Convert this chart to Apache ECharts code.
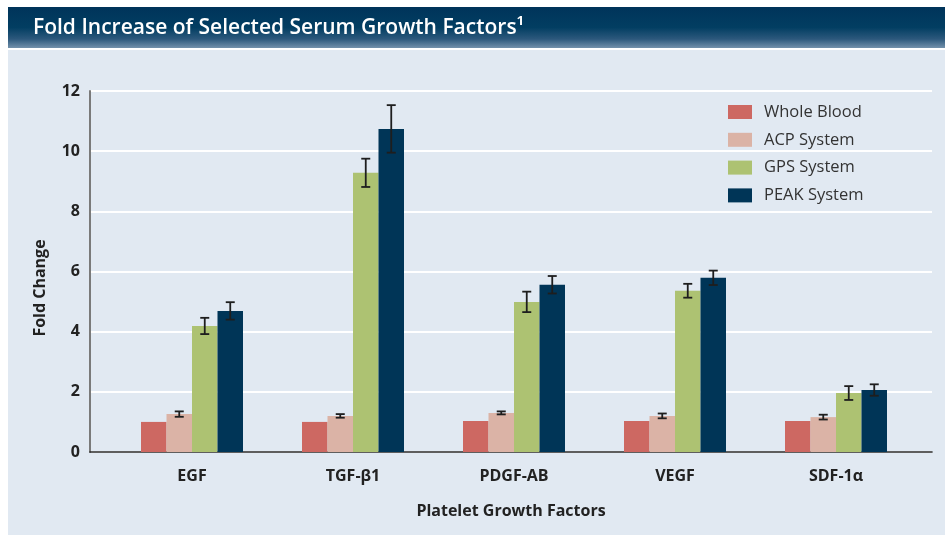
<!DOCTYPE html>
<html>
<head>
<meta charset="utf-8">
<script src="https://cdn.jsdelivr.net/npm/echarts@6/dist/echarts.min.js"></script>
<style>
html,body{margin:0;padding:0;background:#fff;}
#c{width:945px;height:535px;}
</style>
</head>
<body>
<div id="c"></div>
<script>
var categories = ['EGF', 'TGF-\u03b21', 'PDGF-AB', 'VEGF', 'SDF-1\u03b1'];
var seriesNames = ['Whole Blood', 'ACP System', 'GPS System', 'PEAK System'];
var wholeBlood = [1.0, 1.0, 1.03, 1.03, 1.03];
var acp = [1.26, 1.2, 1.3, 1.2, 1.16];
var gps = [4.19, 9.28, 4.99, 5.36, 1.96];
var peak = [4.69, 10.74, 5.56, 5.79, 2.06];
var acpErr = [0.09, 0.06, 0.05, 0.08, 0.08];
var gpsErr = [0.27, 0.47, 0.34, 0.23, 0.23];
var peakErr = [0.29, 0.79, 0.29, 0.24, 0.19];
var yTicks = [0, 2, 4, 6, 8, 10, 12];
var titleText = 'Fold Increase of Selected Serum Growth Factors\u00b9';
var xTitle = 'Platelet Growth Factors';
var yTitle = 'Fold Change';

var colors = ['#cd6862', '#dbb3a6', '#adc272', '#003557'];
var FONT = '"Open Sans", "Noto Sans", sans-serif';
var BAR_W = 25.5;

var chart = echarts.init(document.getElementById('c'), null, {renderer: 'canvas'});

function errSeries(idx, vals, errs) {
  var data = vals.map(function (v, i) { return [i, v - errs[i], v + errs[i]]; });
  return {
    type: 'custom',
    xAxisIndex: 1,
    yAxisIndex: 1,
    z: 5,
    silent: true,
    data: data,
    renderItem: function (params, api) {
      var off = (idx - 1.5) * BAR_W;
      var lo = api.coord([api.value(0), api.value(1)]);
      var hi = api.coord([api.value(0), api.value(2)]);
      var x = lo[0] + off;
      var hw = 4.5;
      var st = {stroke: '#1e1e1e', lineWidth: 1.8};
      return {
        type: 'group',
        children: [
          {type: 'line', shape: {x1: x, y1: lo[1], x2: x, y2: hi[1]}, style: st},
          {type: 'line', shape: {x1: x - hw, y1: lo[1], x2: x + hw, y2: lo[1]}, style: st},
          {type: 'line', shape: {x1: x - hw, y1: hi[1], x2: x + hw, y2: hi[1]}, style: st}
        ]
      };
    }
  };
}

var barData = [wholeBlood, acp, gps, peak];

var option = {
  animation: false,
  backgroundColor: '#ffffff',
  textStyle: {fontFamily: FONT},
  graphic: [
    {
      type: 'rect', left: 8, top: 7, z: -10,
      shape: {width: 937, height: 41},
      style: {
        fill: new echarts.graphic.LinearGradient(0, 0, 0, 1, [
          {offset: 0, color: '#00345a'},
          {offset: 0.5, color: '#023e62'},
          {offset: 0.78, color: '#2c587c'},
          {offset: 1, color: '#7391ab'}
        ])
      }
    },
    {
      type: 'rect', left: 8, top: 50, z: -10,
      shape: {width: 937, height: 485},
      style: {fill: '#e1e9f2'}
    },
    {
      type: 'text', left: 33, top: 18, z: 10,
      style: {text: titleText, fill: '#ffffff', font: '600 21px ' + FONT}
    },
    {
      type: 'text', z: 10,
      x: 40, y: 288, rotation: Math.PI / 2,
      style: {text: yTitle, fill: '#222222', font: 'bold 16px ' + FONT, align: 'center', verticalAlign: 'middle'}
    }
  ],
  legend: {
    orient: 'vertical',
    left: 728,
    top: 102,
    padding: 0,
    itemWidth: 24,
    itemHeight: 14,
    itemGap: 7.8,
    icon: 'rect',
    data: seriesNames,
    textStyle: {fontFamily: FONT, fontSize: 16.5, color: '#333333', padding: [0, 0, 0, 7], lineHeight: 20}
  },
  grid: [
    {left: 90, right: 13, top: 91, bottom: 83, containLabel: false},
    {left: 111.5, right: 28.5, top: 91, bottom: 83, containLabel: false}
  ],
  xAxis: [
    {
      gridIndex: 0, type: 'value', min: 0, max: 1,
      axisLine: {show: true, onZero: false, lineStyle: {color: '#2a2a2a', width: 1.6}},
      axisTick: {show: false}, axisLabel: {show: false}, splitLine: {show: false},
      name: xTitle, nameLocation: 'middle', nameGap: 51,
      nameTextStyle: {fontFamily: FONT, fontSize: 16, fontWeight: 'bold', color: '#222222'}
    },
    {
      gridIndex: 1, type: 'category', data: categories,
      axisLine: {show: false}, axisTick: {show: false},
      axisLabel: {margin: 16, fontFamily: FONT, fontSize: 16, fontWeight: 'bold', color: '#222222'}
    }
  ],
  yAxis: [
    {
      gridIndex: 0, type: 'value', min: 0, max: 12, interval: 2,
      axisLine: {show: true, lineStyle: {color: '#7a7a7a', width: 2}},
      axisTick: {show: false},
      axisLabel: {margin: 10, fontFamily: FONT, fontSize: 16, fontWeight: 'bold', color: '#222222',
        formatter: function (v) { return yTicks.indexOf(v) >= 0 ? String(v) : ''; }},
      splitLine: {show: true, lineStyle: {color: '#ffffff', width: 2}}
    },
    {
      gridIndex: 1, type: 'value', min: 0, max: 12, interval: 2,
      show: false, splitLine: {show: false}
    }
  ],
  series: seriesNames.map(function (n, i) {
    return {
      name: n, type: 'bar', xAxisIndex: 1, yAxisIndex: 1,
      data: barData[i], barWidth: BAR_W, barGap: '0%',
      itemStyle: {color: colors[i]}, z: 3
    };
  }).concat([
    errSeries(1, acp, acpErr),
    errSeries(2, gps, gpsErr),
    errSeries(3, peak, peakErr)
  ])
};
chart.setOption(option);
</script>
</body>
</html>
